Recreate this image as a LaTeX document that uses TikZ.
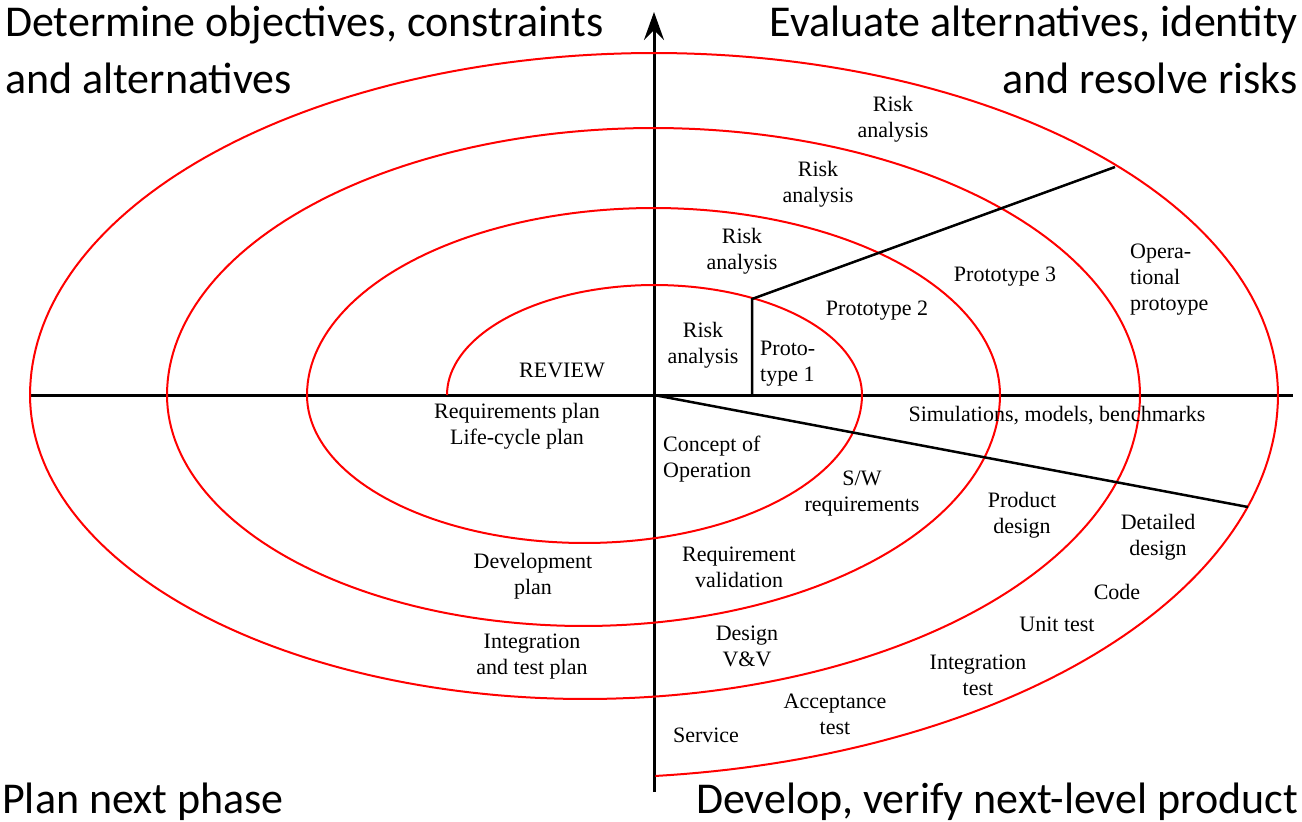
\documentclass[tikz,border=0pt]{standalone}
\usepackage{fontspec}
\setmainfont{Liberation Serif}
\newfontfamily\cornerfont{Carlito}
\usetikzlibrary{arrows.meta}
\begin{document}
\begin{tikzpicture}[x=1pt,y=-1pt,
  spiral/.style={red, line width=2pt, line join=round},
  axisline/.style={black, line width=3pt},
  partline/.style={black, line width=2.5pt},
  lbl/.style={font=\rmfamily\fontsize{22}{26}\selectfont, align=center, inner sep=0pt},
  corner/.style={font=\cornerfont\fontsize{44}{57}\selectfont, inner sep=0pt}]
\useasboundingbox (0,0) rectangle (1302,822);
% axes
\coordinate (O) at (654,395);
\coordinate (xl) at (30,395);
\coordinate (xr) at (1293,395);
\coordinate (yt) at (654,12);
\coordinate (yb) at (654,792);
\draw[axisline] (xl) -- (xr);
\draw[axisline, -{Stealth[length=28pt,width=20pt,inset=10pt]}] (yb) -- (yt);
% spiral
\draw[spiral]
  plot[domain=180:0, samples=80] ({654.5+207.5*cos(\x)}, {395-110*sin(\x)})
  -- plot[domain=0:-180, samples=90] ({584.5+277.5*cos(\x)}, {395-148*sin(\x)})
  -- plot[domain=180:0, samples=100] ({653.5+346.5*cos(\x)}, {395-187*sin(\x)})
  -- plot[domain=0:-180, samples=110] ({583.5+416.5*cos(\x)}, {395-231*sin(\x)})
  -- plot[domain=180:0, samples=120] ({653.5+486.5*cos(\x)}, {395-267*sin(\x)})
  -- plot[domain=0:-180, samples=130] ({585+555*cos(\x)}, {395-304*sin(\x)})
  -- plot[domain=180:0, samples=140] ({654+624*cos(\x)}, {395-342*sin(\x)})
  -- plot[domain=0:-84.1, samples=70] ({584+694*cos(\x)}, {395-383*sin(\x)});
% partition lines
\coordinate (p1) at (752,395);
\coordinate (p2) at (752,299);
\coordinate (p3) at (1115,167);
\coordinate (d) at (1248,507);
\draw[partline] (p1) -- (p2) -- (p3);
\draw[partline] (O) -- (d);
% corner texts
\node[corner, anchor=base west] (tl1) at (5,36) {Determine objectives, constraints};
\node[corner, anchor=base west] (tl2) at (5,93) {and alternatives};
\node[corner, anchor=base east] (tr1) at (1298,36) {Evaluate alternatives, identity};
\node[corner, anchor=base east] (tr2) at (1298,93) {and resolve risks};
\node[corner, anchor=base west] (bl) at (2,813) {Plan next phase};
\node[corner, anchor=base east] (br) at (1298,813) {Develop, verify next-level product};
% labels
\node[lbl] (ra4) at (893,119) {Risk\\analysis};
\node[lbl] (ra3) at (818,184) {Risk\\analysis};
\node[lbl] (ra2) at (742,251) {Risk\\analysis};
\node[lbl] (ra1) at (703,345) {Risk\\analysis};
\node[lbl, align=left, anchor=west] (pt1) at (760,364) {Proto-\\type 1};
\node[lbl] (pt2) at (877,311) {Prototype 2};
\node[lbl] (pt3) at (1005,277) {Prototype 3};
\node[lbl, align=left, anchor=west] (opp) at (1130,280) {Opera-\\tional\\protoype};
\node[lbl] (rev) at (562,370) {REVIEW};
\node[lbl] (rp) at (517,426) {Requirements plan\\Life-cycle plan};
\node[lbl] (sim) at (1057,416) {Simulations, models, benchmarks};
\node[lbl, align=left, anchor=west] (coo) at (663,459) {Concept of\\Operation};
\node[lbl] (swr) at (862,494) {S/W\\requirements};
\node[lbl] (prd) at (1022,515) {Product\\design};
\node[lbl] (dd) at (1158,537) {Detailed\\design};
\node[lbl] (code) at (1117,592) {Code};
\node[lbl] (ut) at (1057,624) {Unit test};
\node[lbl] (it) at (978,675) {Integration\\test};
\node[lbl] (dp) at (533,576) {Development\\plan};
\node[lbl] (itp) at (532,657) {Integration\\and test plan};
\node[lbl] (rv) at (739,567) {Requirement\\validation};
\node[lbl] (dvv) at (747,646) {Design\\V\&V};
\node[lbl] (acc) at (835,714) {Acceptance\\test};
\node[lbl] (svc) at (706,735) {Service};
\end{tikzpicture}
\end{document}
